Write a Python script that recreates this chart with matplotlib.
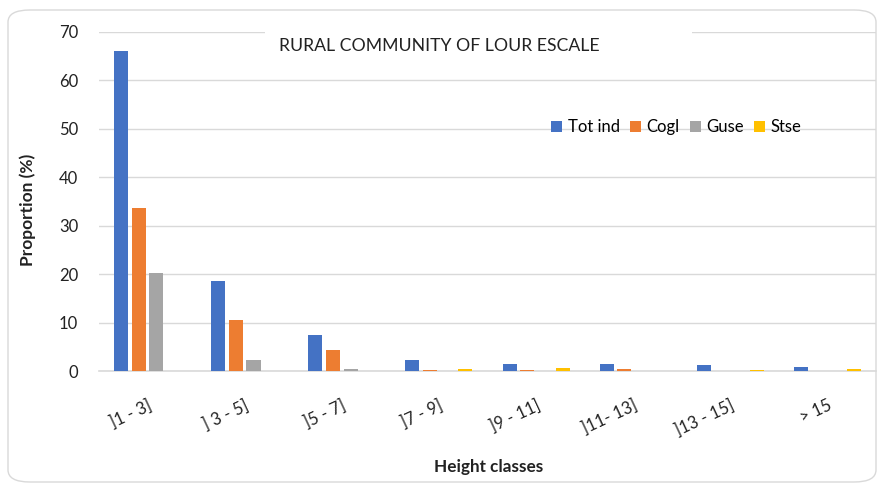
import numpy as np
import matplotlib
matplotlib.use('Agg')
import matplotlib.pyplot as plt
from matplotlib.patches import FancyBboxPatch, Rectangle

plt.rcParams['font.family'] = ['Lato', 'DejaVu Sans']

classes = [']1 - 3]', '] 3 - 5]', ']5 - 7]', ']7 - 9]', ']9 - 11]', ']11- 13]', ']13 - 15]', '> 15']
tot_ind = [66.0, 18.6, 7.4, 2.3, 1.4, 1.4, 1.2, 0.9]
cogl = [33.6, 10.5, 4.3, 0.2, 0.2, 0.35, 0.0, 0.0]
guse = [20.2, 2.3, 0.45, 0.0, 0.0, 0.0, 0.0, 0.0]
stse = [0.0, 0.0, 0.0, 0.5, 0.7, 0.0, 0.25, 0.5]

series = [('Tot ind', tot_ind, '#4472C4'), ('Cogl', cogl, '#ED7D31'),
          ('Guse', guse, '#A5A5A5'), ('Stse', stse, '#FFC000')]

W, H = 877, 484
fig = plt.figure(figsize=(W / 100, H / 100), dpi=100)

# chart frame
frame = FancyBboxPatch((8 / W, 2 / H), 868 / W, 472 / H,
                       boxstyle='round,pad=0,rounding_size=0.025',
                       transform=fig.transFigure, facecolor='white',
                       edgecolor='#D9D9D9', linewidth=1, zorder=-1)
fig.patches.append(frame)

ax = fig.add_axes([99 / W, 1 - 371 / H, 777 / W, 339 / H])
ax.set_facecolor('none')

x = np.arange(len(classes))
width = 0.145
step = 0.182
for i, (name, vals, col) in enumerate(series):
    ax.bar(x + (i - 1.5) * step, vals, width, color=col, label=name, zorder=3)

ax.set_xlim(-0.5, len(classes) - 0.5)
ax.set_ylim(0, 70)
ax.set_yticks(range(0, 71, 10))
ax.yaxis.grid(True, color='#D9D9D9', linewidth=1, zorder=0)
for s in ['top', 'right', 'left']:
    ax.spines[s].set_visible(False)
ax.spines['bottom'].set_color('#D9D9D9')
ax.spines['bottom'].set_linewidth(1.2)
ax.tick_params(axis='both', length=0, labelsize=12, colors='#222222')
ax.tick_params(axis='y', pad=15)
ax.set_xticks(x)
ax.set_xticklabels(classes, rotation=25, ha='right', va='top',
                   rotation_mode='anchor')
ax.tick_params(axis='x', pad=19)

# title with white background covering the top gridline
fig.patches.append(Rectangle((265 / W, (H - 60) / H), 427 / W, 32 / H,
                             transform=fig.transFigure, facecolor='white',
                             edgecolor='none', zorder=1))
fig.text(439 / W, 1 - 46 / H, 'RURAL COMMUNITY OF LOUR ESCALE',
         ha='center', va='center', fontsize=12.7, color='#222222', zorder=2)

ax.legend(loc='center left', bbox_to_anchor=(543 / W, 1 - 127 / H),
          bbox_transform=fig.transFigure, ncol=4, frameon=False,
          fontsize=12, handlelength=0.65, handleheight=0.65,
          handletextpad=0.35, columnspacing=0.6, borderpad=0)

fig.text(28 / W, 1 - 210 / H, 'Proportion (%)', rotation=90, ha='center',
         va='center', fontsize=12.5, fontweight='bold', color='#222222')
fig.text(489 / W, 1 - 467 / H, 'Height classes', ha='center', va='center',
         fontsize=12.3, fontweight='bold', color='#222222')

fig.savefig('out.png', dpi=100)
